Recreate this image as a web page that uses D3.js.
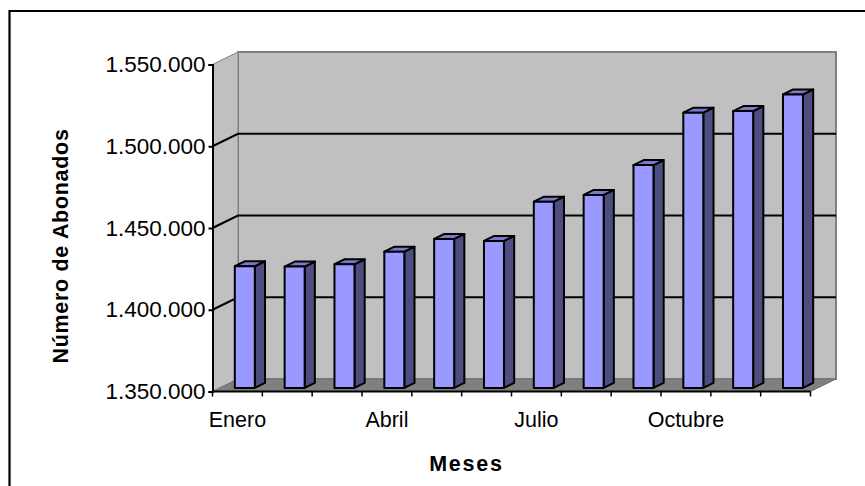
<!DOCTYPE html>
<html lang="en">

<head>
    <meta charset="utf-8">
    <title>Número de Abonados</title>
    <script src="https://d3js.org/d3.v7.min.js"></script>
    <style type="text/css">
        html, body { margin: 0; padding: 0; background: #fff; }
        svg { display: block; }
        text { font-family: "Liberation Sans", Arial, sans-serif; fill: #000; }
    </style>
</head>

<body>
    <script type="text/javascript">

        // Data
        var months = ["Enero", "Febrero", "Marzo", "Abril", "Mayo", "Junio", "Julio",
            "Agosto", "Septiembre", "Octubre", "Noviembre", "Diciembre"];
        var abonados = [1424400, 1424200, 1425600, 1433300, 1441100, 1439900,
            1463900, 1468000, 1486300, 1518300, 1519300, 1529500];
        var yTicks = [1350000, 1400000, 1450000, 1500000, 1550000];
        var xLabels = ["Enero", "Abril", "Julio", "Octubre"];

        //Width and height
        var w = 865;
        var h = 486;

        // front plane of the 3d box, wall is shifted by (depthX, depthY)
        var plotLeft = 212.5, plotRight = 810.5, plotTop = 64.5, plotBottom = 391.5;
        var depthX = 25.5, depthY = -12.5;

        // bars sit partway into the box
        var barZ0 = 0.29, barZ1 = 0.69;
        var barWidth = 20;

        var x = d3.scaleBand().domain(months).range([plotLeft, plotRight]);
        var y = d3.scaleLinear().domain([1350000, 1550000]).range([plotBottom, plotTop]);

        var fmt = function (d) { return d3.format(",")(d).replace(/,/g, "."); };

        var svg = d3.select("body")
            .append("svg")
            .attr("width", w)
            .attr("height", h);

        // chart frame, only top and left are inside the page
        svg.append("path")
            .attr("d", "M9.5," + (h + 2) + "V11H" + (w + 2))
            .attr("fill", "none")
            .attr("stroke", "#000")
            .attr("stroke-width", 2.2);

        function pts(a) {
            return a.map(function (p) { return p.join(","); }).join(" ");
        }

        // back wall
        svg.append("rect")
            .attr("x", plotLeft + depthX)
            .attr("y", plotTop + depthY)
            .attr("width", plotRight - plotLeft)
            .attr("height", plotBottom - plotTop)
            .attr("fill", "#c0c0c0")
            .attr("stroke", "#808080")
            .attr("stroke-width", 2);

        // side wall
        svg.append("polygon")
            .attr("points", pts([[plotLeft, plotTop], [plotLeft + depthX, plotTop + depthY],
                [plotLeft + depthX, plotBottom + depthY], [plotLeft, plotBottom]]))
            .attr("fill", "#c0c0c0")
            .attr("stroke", "#808080")
            .attr("stroke-width", 1);

        // floor
        svg.append("polygon")
            .attr("points", pts([[plotLeft, plotBottom], [plotLeft + depthX, plotBottom + depthY],
                [plotRight + depthX, plotBottom + depthY], [plotRight, plotBottom]]))
            .attr("fill", "#808080")
            .attr("stroke", "#6e6e6e")
            .attr("stroke-width", 1);

        // gridlines on side and back wall
        svg.selectAll("path.grid")
            .data(yTicks.slice(1, -1))
            .enter()
            .append("path")
            .attr("class", "grid")
            .attr("d", function (d) {
                return "M" + plotLeft + "," + y(d) + "L" + (plotLeft + depthX) + "," + (y(d) + depthY) +
                    "H" + (plotRight + depthX);
            })
            .attr("fill", "none")
            .attr("stroke", "#000")
            .attr("stroke-width", 2);

        // bars: right side, top, then front
        var bars = svg.selectAll("g.bar")
            .data(months)
            .enter()
            .append("g")
            .attr("class", "bar")
            .attr("stroke", "#000")
            .attr("stroke-width", 2)
            .attr("stroke-linejoin", "round");

        function corners(d, i) {
            var x0 = x(d) + x.bandwidth() / 2 - barWidth / 2;
            var yTop = y(abonados[i]);
            return {
                x0: x0 + barZ0 * depthX,
                x1: x0 + barZ0 * depthX + barWidth,
                yT: yTop + barZ0 * depthY,
                yB: plotBottom + barZ0 * depthY,
                dx: (barZ1 - barZ0) * depthX,
                dy: (barZ1 - barZ0) * depthY
            };
        }

        bars.append("polygon")
            .attr("fill", "#4d4d80")
            .attr("points", function (d, i) {
                var c = corners(d, i);
                return pts([[c.x1, c.yT], [c.x1 + c.dx, c.yT + c.dy],
                    [c.x1 + c.dx, c.yB + c.dy], [c.x1, c.yB]]);
            });

        bars.append("polygon")
            .attr("fill", "#7a7acc")
            .attr("points", function (d, i) {
                var c = corners(d, i);
                return pts([[c.x0, c.yT], [c.x0 + c.dx, c.yT + c.dy],
                    [c.x1 + c.dx, c.yT + c.dy], [c.x1, c.yT]]);
            });

        bars.append("rect")
            .attr("fill", "#9999ff")
            .attr("x", function (d, i) { return corners(d, i).x0; })
            .attr("y", function (d, i) { return corners(d, i).yT; })
            .attr("width", barWidth)
            .attr("height", function (d, i) {
                var c = corners(d, i);
                return c.yB - c.yT;
            });

        // y axis
        var yAxis = d3.axisLeft(y).tickValues(yTicks).tickFormat(fmt).tickSize(4).tickPadding(3);
        var gy = svg.append("g")
            .attr("transform", "translate(" + plotLeft + ",0)")
            .call(yAxis);
        gy.selectAll("path, line").attr("stroke", "#000").attr("stroke-width", 2);
        gy.selectAll("text").attr("font-size", "22.5px")
            .style("font-family", '"Liberation Sans", Arial, sans-serif');

        // x axis, ticks between the bands
        var gx = svg.append("g");
        gx.append("line")
            .attr("x1", plotLeft).attr("x2", plotRight)
            .attr("y1", plotBottom).attr("y2", plotBottom)
            .attr("stroke", "#000")
            .attr("stroke-width", 2);
        gx.selectAll("line.tick")
            .data(months.concat(["end"]))
            .enter()
            .append("line")
            .attr("class", "tick")
            .attr("x1", function (d, i) { return plotLeft + i * x.step(); })
            .attr("x2", function (d, i) { return plotLeft + i * x.step(); })
            .attr("y1", plotBottom)
            .attr("y2", plotBottom + 5)
            .attr("stroke", "#000")
            .attr("stroke-width", 1.5);
        gx.selectAll("text")
            .data(xLabels)
            .enter()
            .append("text")
            .text(function (d) { return d; })
            .attr("x", function (d) { return x(d) + x.bandwidth() / 2; })
            .attr("y", 427)
            .attr("text-anchor", "middle")
            .attr("font-size", "21.5px");

        // axis titles
        svg.append("text")
            .text("Meses")
            .attr("x", 466.5)
            .attr("y", 471)
            .attr("text-anchor", "middle")
            .attr("font-size", "21.5px")
            .attr("font-weight", "bold")
            .attr("letter-spacing", "1.8px");

        svg.append("text")
            .text("Número de Abonados")
            .attr("transform", "translate(67.5,246) rotate(-90)")
            .attr("text-anchor", "middle")
            .attr("font-size", "21.5px")
            .attr("font-weight", "bold")
            .attr("letter-spacing", "0.7px");

    </script>
</body>

</html>
